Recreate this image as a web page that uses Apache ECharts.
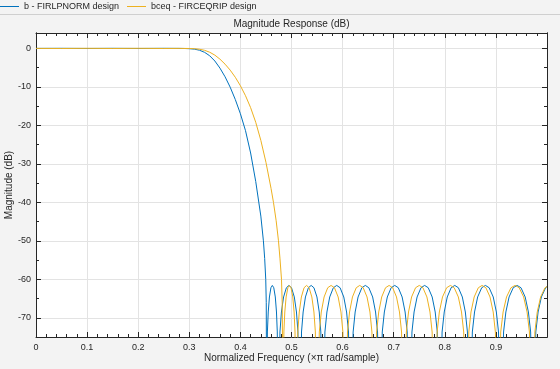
<!DOCTYPE html>
<html>
<head>
<meta charset="utf-8">
<script src="https://cdn.jsdelivr.net/npm/echarts@6/dist/echarts.min.js"></script>
<style>
html,body{margin:0;padding:0;background:#f3f3f3;}
#chart{width:560px;height:369px;}
</style>
</head>
<body>
<div id="chart"></div>
<script>
// ---- data ----
const chartTitle = 'Magnitude Response (dB)';
const xAxisName = 'Normalized Frequency (\u00d7\u03c0 rad/sample)';
const yAxisName = 'Magnitude (dB)';
const seriesNames = ['b - FIRLPNORM design', 'bceq - FIRCEQRIP design'];
const yMajorTicks = [-70, -60, -50, -40, -30, -20, -10, 0];
const yMinorTicks = [-75, -65, -55, -45, -35, -25, -15, -5];

// FIRLPNORM: passband + transition
const bluePassTrans = [
  [0,0],[0.05,0.02],[0.1,-0.02],[0.15,0.02],[0.2,-0.02],[0.25,0.02],[0.28,0],[0.29,-0.02],
  [0.30,-0.08],[0.31,-0.2],[0.32,-0.48],[0.33,-1.03],[0.34,-1.93],[0.35,-3.28],[0.36,-5.13],
  [0.37,-7.38],[0.38,-10.08],[0.39,-13.28],[0.40,-16.98],[0.41,-21.38],[0.42,-27.18],
  [0.43,-34.58],[0.44,-43.58],[0.445,-50],[0.4475,-54.6],[0.4496,-60],[0.4506,-66],[0.4509,-80]
];
// FIRLPNORM: stopband lobes
const blueStop = [
  [0.451,-110],
  [0.4528,-73.7],[0.4545,-68.5],[0.4568,-64.6],[0.4597,-62.2],[0.4625,-61.6],[0.4653,-62.2],[0.4683,-64.6],[0.4706,-68.5],[0.4722,-73.7],[0.474,-110],
  [0.4774,-73.7],[0.4803,-68.5],[0.4845,-64.6],[0.4900,-62.2],[0.4950,-61.6],[0.5000,-62.2],[0.5055,-64.6],[0.5097,-68.5],[0.5126,-73.7],[0.516,-110],
  [0.5196,-73.7],[0.5228,-68.5],[0.5273,-64.6],[0.5331,-62.2],[0.5385,-61.6],[0.5439,-62.2],[0.5498,-64.6],[0.5543,-68.5],[0.5574,-73.7],[0.561,-110],
  [0.5654,-73.7],[0.5693,-68.5],[0.5748,-64.6],[0.5819,-62.2],[0.5885,-61.6],[0.5951,-62.2],[0.6023,-64.6],[0.6078,-68.5],[0.6116,-73.7],[0.616,-110],
  [0.6206,-73.7],[0.6246,-68.5],[0.6303,-64.6],[0.6377,-62.2],[0.6445,-61.6],[0.6513,-62.2],[0.6588,-64.6],[0.6645,-68.5],[0.6684,-73.7],[0.673,-110],
  [0.6776,-73.7],[0.6817,-68.5],[0.6875,-64.6],[0.6950,-62.2],[0.7020,-61.6],[0.7090,-62.2],[0.7165,-64.6],[0.7223,-68.5],[0.7264,-73.7],[0.731,-110],
  [0.7357,-73.7],[0.7399,-68.5],[0.7458,-64.6],[0.7534,-62.2],[0.7605,-61.6],[0.7676,-62.2],[0.7753,-64.6],[0.7812,-68.5],[0.7853,-73.7],[0.790,-110],
  [0.7947,-73.7],[0.7989,-68.5],[0.8048,-64.6],[0.8124,-62.2],[0.8195,-61.6],[0.8266,-62.2],[0.8343,-64.6],[0.8402,-68.5],[0.8443,-73.7],[0.849,-110],
  [0.8539,-73.7],[0.8582,-68.5],[0.8643,-64.6],[0.8722,-62.2],[0.8795,-61.6],[0.8868,-62.2],[0.8948,-64.6],[0.9009,-68.5],[0.9051,-73.7],[0.910,-110],
  [0.9150,-73.7],[0.9195,-68.5],[0.9258,-64.6],[0.9339,-62.2],[0.9415,-61.6],[0.9491,-62.2],[0.9573,-64.6],[0.9636,-68.5],[0.9680,-73.7],[0.973,-110],
  [0.9781,-73.7],[0.9826,-68.5],[0.9890,-64.6],[0.9973,-62.2],[1.0,-61.9]
];

// FIRCEQRIP: passband + transition
const yellowPassTrans = [
  [0,0],[0.05,-0.02],[0.1,0.02],[0.15,-0.02],[0.2,0.02],[0.25,-0.02],[0.28,0],[0.30,-0.02],
  [0.31,-0.08],[0.32,-0.22],[0.33,-0.5],[0.34,-1.0],[0.35,-1.75],[0.36,-2.8],[0.37,-4.1],
  [0.38,-5.65],[0.39,-7.5],[0.40,-9.7],[0.41,-12.3],[0.42,-15.4],[0.43,-19.2],[0.44,-23.9],
  [0.45,-29.6],[0.46,-36.4],[0.4647,-40],[0.47,-44.8],[0.4745,-50],[0.4775,-54.7],
  [0.4804,-60],[0.4818,-66],[0.4826,-80]
];
// FIRCEQRIP: stopband lobes
const yellowStop = [
  [0.483,-110],
  [0.4851,-73.7],[0.4869,-68.5],[0.4895,-64.6],[0.4929,-62.2],[0.4960,-61.6],[0.4991,-62.2],[0.5025,-64.6],[0.5051,-68.5],[0.5069,-73.7],[0.509,-110],
  [0.5123,-73.7],[0.5152,-68.5],[0.5193,-64.6],[0.5246,-62.2],[0.5295,-61.6],[0.5344,-62.2],[0.5398,-64.6],[0.5439,-68.5],[0.5467,-73.7],[0.550,-110],
  [0.5544,-73.7],[0.5583,-68.5],[0.5638,-64.6],[0.5709,-62.2],[0.5775,-61.6],[0.5841,-62.2],[0.5913,-64.6],[0.5968,-68.5],[0.6006,-73.7],[0.605,-110],
  [0.6096,-73.7],[0.6136,-68.5],[0.6193,-64.6],[0.6267,-62.2],[0.6335,-61.6],[0.6403,-62.2],[0.6478,-64.6],[0.6535,-68.5],[0.6574,-73.7],[0.662,-110],
  [0.6666,-73.7],[0.6707,-68.5],[0.6765,-64.6],[0.6840,-62.2],[0.6910,-61.6],[0.6980,-62.2],[0.7055,-64.6],[0.7113,-68.5],[0.7154,-73.7],[0.720,-110],
  [0.7248,-73.7],[0.7290,-68.5],[0.7350,-64.6],[0.7428,-62.2],[0.7500,-61.6],[0.7572,-62.2],[0.7650,-64.6],[0.7710,-68.5],[0.7752,-73.7],[0.780,-110],
  [0.7850,-73.7],[0.7893,-68.5],[0.7955,-64.6],[0.8036,-62.2],[0.8110,-61.6],[0.8184,-62.2],[0.8265,-64.6],[0.8327,-68.5],[0.8370,-73.7],[0.842,-110],
  [0.8470,-73.7],[0.8513,-68.5],[0.8575,-64.6],[0.8656,-62.2],[0.8730,-61.6],[0.8804,-62.2],[0.8885,-64.6],[0.8947,-68.5],[0.8990,-73.7],[0.904,-110],
  [0.9094,-73.7],[0.9141,-68.5],[0.9208,-64.6],[0.9295,-62.2],[0.9375,-61.6],[0.9455,-62.2],[0.9543,-64.6],[0.9610,-68.5],[0.9656,-73.7],[0.971,-110],
  [0.9763,-73.7],[0.9809,-68.5],[0.9875,-64.6],[0.9961,-62.2],[1.0,-61.9]
];

// ---- chart ----
const axisColor = '#262626';
const gridColor = '#e3e3e3';
const fontFamily = 'Liberation Sans, Arial, Helvetica, sans-serif';
const blueColor = '#0072BD';
const yellowColor = '#EDB120';

const chart = echarts.init(document.getElementById('chart'), null, {renderer: 'canvas'});

function xAx(pos, showLabel) {
  return {
    type: 'value', position: pos, min: 0, max: 1, interval: 0.1,
    axisLine: {show: true, onZero: false, lineStyle: {color: axisColor, width: 1}},
    axisTick: {show: true, inside: true, length: 5, lineStyle: {color: axisColor}},
    minorTick: {show: true, splitNumber: 5, length: 3, lineStyle: {color: axisColor}},
    splitLine: {show: showLabel, lineStyle: {color: gridColor, width: 1}},
    axisLabel: {show: showLabel, fontSize: 9, color: axisColor, fontFamily: fontFamily, margin: 6,
      formatter: function (v) { return v >= 0.999 ? '' : String(Math.round(v * 10) / 10); }},
    name: showLabel ? xAxisName : '', nameLocation: 'middle', nameGap: 16, nameMoveOverlap: false,
    nameTextStyle: {fontSize: 10, color: axisColor, fontFamily: fontFamily}
  };
}
function yAx(pos, major, showLabel) {
  const vals = major ? yMajorTicks : yMinorTicks;
  return {
    type: 'value', position: pos, min: -75, max: 4,
    axisLine: {show: true, onZero: false, lineStyle: {color: axisColor, width: 1}},
    axisTick: {show: true, inside: true, length: major ? 5 : 3, customValues: vals, lineStyle: {color: axisColor}},
    splitLine: {show: showLabel, lineStyle: {color: gridColor, width: 1}},
    axisLabel: {show: showLabel, customValues: vals, fontSize: 9, color: axisColor, fontFamily: fontFamily, margin: 5},
    name: showLabel ? yAxisName : '', nameLocation: 'middle', nameGap: 22, nameMoveOverlap: false,
    nameTextStyle: {fontSize: 10, color: axisColor, fontFamily: fontFamily}
  };
}

function lineSeries(name, data, color, smooth) {
  return {
    name: name, type: 'line', xAxisIndex: 0, yAxisIndex: 0,
    data: data, showSymbol: false, symbol: 'none', clip: true,
    smooth: smooth,
    lineStyle: {color: color, width: 1}, itemStyle: {color: color}
  };
}

const option = {
  animation: false,
  backgroundColor: '#f3f3f3',
  grid: {left: 36, right: 13, top: 33, bottom: 32, show: true, backgroundColor: '#ffffff', borderWidth: 0,
         containLabel: false, outerBoundsMode: 'none'},
  legend: {
    left: 0, top: 2, padding: 0, itemGap: 8, itemWidth: 19, itemHeight: 1, icon: 'rect',
    textStyle: {fontSize: 9, color: axisColor, fontFamily: fontFamily},
    data: seriesNames
  },
  graphic: [
    {type: 'line', shape: {x1: 0, y1: 14.5, x2: 560, y2: 14.5}, style: {stroke: '#cfcfcf', lineWidth: 1}, silent: true},
    {type: 'text', x: 291.5, y: 24.5, style: {text: chartTitle, fontSize: 10, fill: axisColor, fontFamily: fontFamily, textAlign: 'center', textVerticalAlign: 'middle'}, silent: true}
  ],
  xAxis: [xAx('bottom', true), xAx('top', false)],
  yAxis: [yAx('left', true, true), yAx('left', false, false), yAx('right', true, false), yAx('right', false, false)],
  series: [
    lineSeries(seriesNames[0], bluePassTrans, blueColor, false),
    lineSeries(seriesNames[0], blueStop, blueColor, false),
    lineSeries(seriesNames[1], yellowPassTrans, yellowColor, false),
    lineSeries(seriesNames[1], yellowStop, yellowColor, false)
  ]
};
chart.setOption(option);
</script>
</body>
</html>
